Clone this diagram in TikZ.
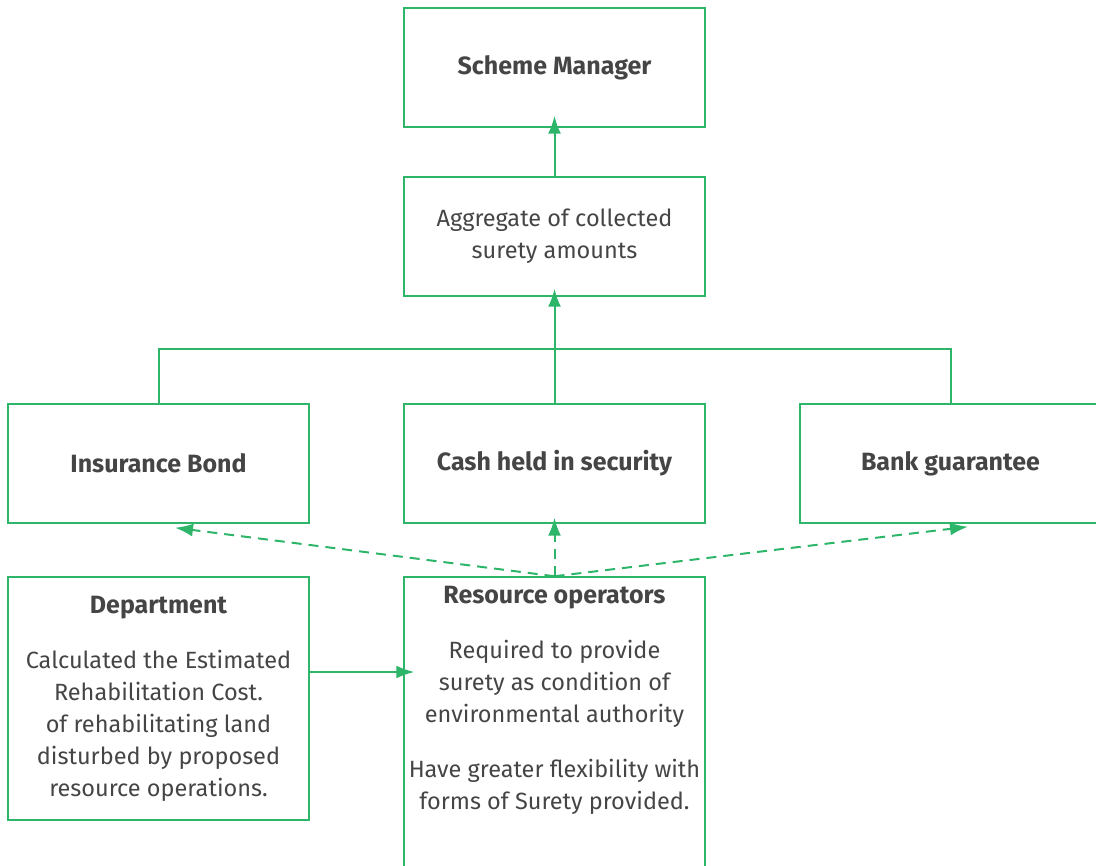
\documentclass[tikz,border=0pt]{standalone}
\usepackage{fontspec}
\setmainfont{Fira Sans}
\usepackage{xcolor}
\usetikzlibrary{arrows.meta, positioning}
\definecolor{sgreen}{HTML}{2DB56A}
\definecolor{sgrey}{HTML}{454545}
\newcommand{\headfont}{\fontsize{25}{32}\selectfont\bfseries}
\tikzset{
  % box node style
  block/.style={
    draw=sgreen
    , line width=1.5pt
    , text=sgrey
    , font=\fontsize{23.5}{32}\selectfont
    , minimum width=301pt
    , minimum height=119pt
    , align=center
    , anchor=center
  },
  % connector style
  link/.style={
    draw=sgreen
    , line width=2pt
    , >={Latex[length=18pt,width=13pt]}
  },
}

\begin{document}
\begin{tikzpicture}[x=1pt,y=-1pt]
  \useasboundingbox (0,0) rectangle (1096,866);

  \node[block] (mgr) at (554.5,67.5) {\headfont Scheme Manager};
  \node[block, below=48.5pt of mgr] (agg) {Aggregate of collected\\surety amounts};
  \node[block, below=106.5pt of agg] (cash) {\headfont Cash held in security};
  \node[block, left=93.5pt of cash] (ins) {\headfont Insurance Bond};
  \node[block, right=93.5pt of cash] (bank) {\headfont Bank guarantee};
  \node[block, below=52.5pt of ins, minimum height=243pt] (dept)
    {{\headfont Department}\\[23pt]Calculated the Estimated\\Rehabilitation Cost.\\of rehabilitating land\\disturbed by proposed\\resource operations.};
  \node[block, below=52.5pt of cash, minimum height=330pt] (res) {};
  \node[block, draw=none, minimum height=0pt, inner sep=0pt, anchor=north] (restext) at ([yshift=-9pt]res.north)
    {{\headfont Resource operators}\\[23pt]Required to provide\\surety as condition of\\environmental authority\\[23pt]Have greater flexibility with\\forms of Surety provided.};

  \coordinate (bus) at (554.5,349);

  \draw[link, ->, shorten >=-12pt] (agg.north) -- (mgr.south);
  \draw[link, ->, shorten >=-8pt] (cash.north) -- (agg.south);
  \draw[link] (ins.north) |- (bus) -| (bank.north);

  \draw[link, ->, shorten >=-11pt] ([yshift=26.5pt]dept.east) coordinate (dout) -- (dout -| res.west);

  \draw[link, ->, dash pattern=on 10pt off 7pt] (res.north) -- ([xshift=16.5pt,yshift=-4pt]ins.south);
  \draw[link, ->, dash pattern=on 10pt off 7pt] (res.north) -- ([yshift=6pt]cash.south);
  \draw[link, ->, dash pattern=on 10pt off 7pt] (res.north) -- ([xshift=17.5pt,yshift=-3pt]bank.south);
\end{tikzpicture}
\end{document}
